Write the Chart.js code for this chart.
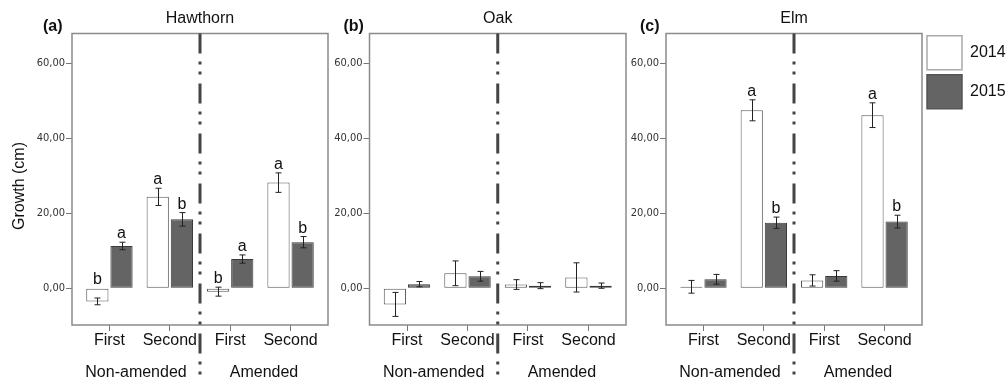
<!DOCTYPE html>
<html><head><meta charset="utf-8">
<script src="https://cdn.jsdelivr.net/npm/chart.js@4.4.1/dist/chart.umd.min.js"></script>
<style>
html,body{margin:0;padding:0;background:#fff;}
#wrap{position:relative;width:1008px;height:383px;overflow:hidden;background:#fff;}
#wrap canvas{position:absolute;left:0;top:0;}
</style></head><body>
<div id="wrap">
<canvas id="cA" width="1008" height="383"></canvas>
<canvas id="cB" width="1008" height="383"></canvas>
<canvas id="cC" width="1008" height="383"></canvas>
</div>
<script>
// ---- data ----
const categories = ['First', 'Second', 'First', 'Second'];
const groupLabels = ['Non-amended', 'Amended'];
const seriesNames = ['2014', '2015'];
const yTickValues = [0, 20, 40, 60];
const panelTitles = ['Hawthorn', 'Oak', 'Elm'];
const panelTags = ['(a)', '(b)', '(c)'];
const yAxisTitle = 'Growth (cm)';

const hawthorn2014 = [-3.5, 24.4, -0.9, 28.2];
const hawthorn2014Err = [0.9, 2.3, 1.2, 2.6];
const hawthorn2015 = [11.3, 18.4, 7.8, 12.3];
const hawthorn2015Err = [1.0, 1.8, 1.1, 1.5];
const hawthorn2014Letters = ['b', 'a', 'b', 'a'];
const hawthorn2015Letters = ['a', 'b', 'a', 'b'];

const oak2014 = [-4.3, 4.0, 1.0, 2.9];
const oak2014Err = [3.2, 3.3, 1.3, 3.9];
const oak2015 = [1.1, 3.2, 0.7, 0.7];
const oak2015Err = [0.7, 1.3, 0.8, 0.7];
const oak2014Letters = ['', '', '', ''];
const oak2015Letters = ['', '', '', ''];

const elm2014 = [0.4, 47.5, 2.1, 46.2];
const elm2014Err = [1.7, 2.8, 1.5, 3.3];
const elm2015 = [2.4, 17.5, 3.3, 17.8];
const elm2015Err = [1.3, 1.5, 1.4, 1.7];
const elm2014Letters = ['', 'a', '', 'a'];
const elm2015Letters = ['', 'b', '', 'b'];

// ---- styling ----
const FONT = '"Liberation Sans", Arial, Helvetica, sans-serif';
const TICKFONT = '"DejaVu Sans Condensed", "DejaVu Sans", Verdana, sans-serif';
Chart.defaults.font.family = FONT;
Chart.defaults.color = '#111';

const decor = {
  id: 'decor',
  afterDatasetsDraw(chart, args, opts) {
    const ctx = chart.ctx;
    const ys = chart.scales.y;
    ctx.save();
    chart.data.datasets.forEach((ds, di) => {
      const meta = chart.getDatasetMeta(di);
      meta.data.forEach((bar, i) => {
        const v = ds.data[i].y, e = ds.errors[i];
        const x = Math.round(bar.x) + 0.5;
        const yt = ys.getPixelForValue(v + e), yb = ys.getPixelForValue(v - e);
        ctx.strokeStyle = '#222';
        ctx.lineWidth = 1;
        ctx.beginPath();
        ctx.moveTo(x, yt); ctx.lineTo(x, yb);
        ctx.moveTo(x - 3, yt); ctx.lineTo(x + 3, yt);
        ctx.moveTo(x - 3, yb); ctx.lineTo(x + 3, yb);
        ctx.stroke();
        const L = ds.letters[i];
        if (L) {
          ctx.fillStyle = '#111';
          ctx.font = '16px ' + FONT;
          ctx.textAlign = 'center';
          ctx.textBaseline = 'alphabetic';
          ctx.fillText(L, bar.x, ys.getPixelForValue(Math.max(0, v + e)) - 4);
        }
      });
    });
    ctx.restore();
  },
  afterDraw(chart, args, opts) {
    const ctx = chart.ctx;
    const a = chart.chartArea;
    const xs = chart.scales.x;
    ctx.save();
    // frame
    ctx.strokeStyle = '#8a8a8a';
    ctx.lineWidth = 1.5;
    ctx.strokeRect(a.left, a.top, a.right - a.left, a.bottom - a.top);
    // divider between the two treatment groups
    const dx = xs.getPixelForValue(1.5);
    ctx.strokeStyle = '#444';
    ctx.lineWidth = 3;
    ctx.setLineDash([20, 8, 3, 7, 3, 9]);
    ctx.beginPath();
    ctx.moveTo(dx, a.top);
    ctx.lineTo(dx, chart.height);
    ctx.stroke();
    ctx.setLineDash([]);
    // group labels
    ctx.fillStyle = '#111';
    ctx.font = '16px ' + FONT;
    ctx.textAlign = 'center';
    ctx.textBaseline = 'middle';
    ctx.fillText(groupLabels[0], (a.left + dx) / 2, a.bottom + 48);
    ctx.fillText(groupLabels[1], (dx + a.right) / 2, a.bottom + 48);
    // title
    ctx.fillText(opts.title, (a.left + a.right) / 2, a.top - 15);
    // tag
    ctx.font = 'bold 16px ' + FONT;
    ctx.textAlign = 'left';
    ctx.fillText(opts.tag, a.left - opts.tagOffset, a.top - 7);
    // y title
    if (opts.yTitle) {
      ctx.font = '16px ' + FONT;
      ctx.translate(20, 186);
      ctx.rotate(-Math.PI / 2);
      ctx.textAlign = 'center';
      ctx.fillText(opts.yTitle, 0, 0);
    }
    ctx.restore();
  }
};

function makeDatasets(v14, e14, l14, v15, e15, l15) {
  return [
    {
      label: seriesNames[0],
      data: v14.map((y, i) => ({x: i, y: y})),
      errors: e14, letters: l14,
      backgroundColor: '#ffffff', borderColor: '#555555', borderWidth: 1,
      borderSkipped: false
    },
    {
      label: seriesNames[1],
      data: v15.map((y, i) => ({x: i, y: y})),
      errors: e15, letters: l15,
      backgroundColor: '#646464', borderColor: '#3a3a3a', borderWidth: 1,
      borderSkipped: false
    }
  ];
}

function makeChart(id, datasets, p) {
  const scales = {
    x: {
      type: 'linear', position: 'bottom', min: -0.62, max: 3.62, offset: false, bounds: 'data',
      afterBuildTicks: s => { s.ticks = categories.map((c, i) => ({value: i})); },
      afterFit: s => { s.height = 58; },
      ticks: {
        callback: v => categories[Math.round(v)],
        autoSkip: false, maxRotation: 0, minRotation: 0, padding: 0,
        font: {size: 16, family: FONT}, color: '#111'
      },
      grid: {display: true, drawOnChartArea: false, drawTicks: true, tickLength: 6, color: '#777', offset: false},
      border: {display: false}
    },
    y: {
      type: 'linear', position: 'left', min: -9.8, max: 68, bounds: 'data',
      afterBuildTicks: s => { s.ticks = yTickValues.map(v => ({value: v})); },
      afterFit: s => { s.width = 50; },
      ticks: {
        callback: v => v.toFixed(2).replace('.', ','),
        padding: 1,
        font: {size: 11, family: TICKFONT}, color: '#333'
      },
      grid: {display: true, drawOnChartArea: false, drawTicks: true, tickLength: 6, color: '#777'},
      border: {display: false}
    }
  };
  if (p.topAxis) {
    scales.xTop = {
      type: 'linear', position: 'top', min: 0, max: 1, display: true,
      ticks: {display: false}, grid: {display: false}, border: {display: false},
      afterFit: s => { s.height = p.topAxis; }
    };
  }
  return new Chart(document.getElementById(id), {
    type: 'bar',
    data: {datasets: datasets},
    options: {
      responsive: false,
      animation: false,
      events: [],
      datasets: {bar: {categoryPercentage: 0.8, barPercentage: 0.92}},
      layout: {padding: p.padding},
      scales: scales,
      plugins: {
        title: {display: false},
        tooltip: {enabled: false},
        legend: p.legend || {display: false},
        decor: {title: p.title, tag: p.tag, tagOffset: p.tagOffset, yTitle: p.yTitle}
      }
    },
    plugins: [decor]
  });
}

makeChart('cA',
  makeDatasets(hawthorn2014, hawthorn2014Err, hawthorn2014Letters, hawthorn2015, hawthorn2015Err, hawthorn2015Letters),
  {padding: {left: 22, right: 680, top: 33.5, bottom: 0}, title: panelTitles[0], tag: panelTags[0], tagOffset: 29, yTitle: yAxisTitle});

makeChart('cB',
  makeDatasets(oak2014, oak2014Err, oak2014Letters, oak2015, oak2015Err, oak2015Letters),
  {padding: {left: 319.5, right: 382, top: 33.5, bottom: 0}, title: panelTitles[1], tag: panelTags[1], tagOffset: 26});

makeChart('cC',
  makeDatasets(elm2014, elm2014Err, elm2014Letters, elm2015, elm2015Err, elm2015Letters),
  {padding: {left: 616, right: 0, top: 30.7, bottom: 0}, topAxis: 2.8, title: panelTitles[2], tag: panelTags[2], tagOffset: 26,
   legend: {
     display: true, position: 'right', align: 'start', maxWidth: 86,
     labels: {
       boxWidth: 35, boxHeight: 34, padding: 5, color: '#111',
       font: {size: 16, family: FONT},
       generateLabels: chart => Chart.defaults.plugins.legend.labels.generateLabels(chart).map((it, i) => {
         it.strokeStyle = i === 0 ? '#aaaaaa' : '#555555';
         it.lineWidth = 1.5;
         return it;
       })
     }
   }});
</script>
</body></html>
